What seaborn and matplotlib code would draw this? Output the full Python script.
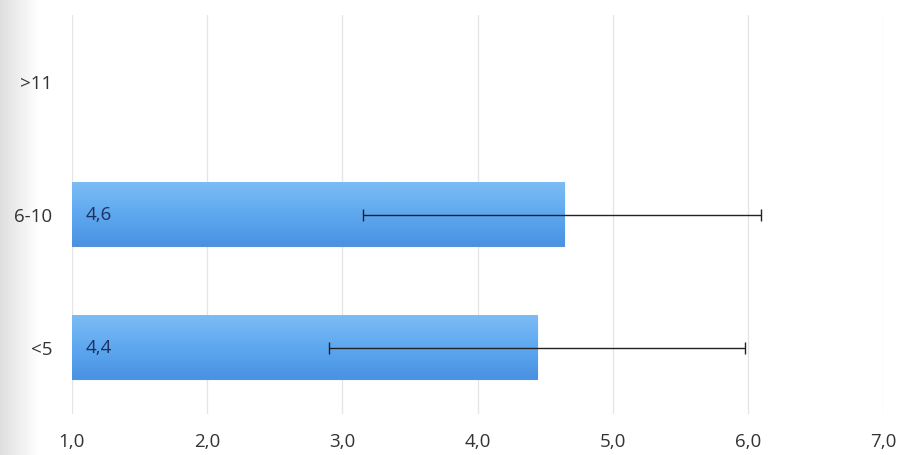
import matplotlib
matplotlib.use("Agg")
import matplotlib.pyplot as plt
from matplotlib.colors import LinearSegmentedColormap
import seaborn as sns
import numpy as np
import pandas as pd

categories = [">11", "6-10", "<5"]
values = [np.nan, 4.64, 4.44]
err_low = [np.nan, 3.15, 2.9]
err_high = [np.nan, 6.1, 5.98]
value_labels = ["", "4,6", "4,4"]
xticks = [1.0, 2.0, 3.0, 4.0, 5.0, 6.0, 7.0]
x_min, x_max = 1.0, 7.0

sns.set_theme(style="white")
plt.rcParams["font.family"] = ["Open Sans", "DejaVu Sans"]

fig = plt.figure(figsize=(9.03, 4.55), dpi=100)

# subtle scan shadow at left edge (background axes)
bg = fig.add_axes([0, 0, 1, 1], zorder=-10)
grad = np.concatenate([np.linspace(0.87, 1.0, 40), np.ones(863)]).reshape(1, -1)
bg.imshow(grad, cmap="gray", vmin=0, vmax=1, aspect="auto", extent=[0, 1, 0, 1])
bg.set_axis_off()

ax = fig.add_axes([0.0797, 0.09, 0.978 - 0.0797, 0.877])

df = pd.DataFrame({"cat": categories, "val": values})
sns.barplot(data=df, y="cat", x="val", order=categories, orient="h",
            color="#5ea6ee", width=0.48, saturation=1, ax=ax, zorder=2)

# gentle vertical gradient inside each bar (lighter top, darker bottom)
cmap = LinearSegmentedColormap.from_list("barg", ["#7cbcf4", "#5ea8f0", "#4a92e2"])
gimg = np.linspace(0, 1, 50).reshape(-1, 1)
for p in list(ax.patches):
    w = p.get_width()
    if not np.isfinite(w) or w == 0:
        continue
    x0, y0, h = p.get_x(), p.get_y(), p.get_height()
    xs = max(x0, x_min)
    p.set_edgecolor("#5a8fd6")
    p.set_linewidth(0.8)
    ax.imshow(gimg, cmap=cmap, aspect="auto", extent=[xs, x0 + w, y0 + h, y0],
              origin="upper", zorder=2.1)

ypos = np.arange(len(categories))
vals = np.array(values)
lo = np.array(err_low)
hi = np.array(err_high)
mask = ~np.isnan(vals)
ax.errorbar(vals[mask], ypos[mask], xerr=[vals[mask] - lo[mask], hi[mask] - vals[mask]],
            fmt="none", ecolor="#222222", elinewidth=1.0, capsize=4, capthick=1.0, zorder=3)

for y, lab in zip(ypos, value_labels):
    if lab:
        ax.text(1.1, y, lab, va="center", ha="left", fontsize=13.5, color="#1f2f60", zorder=4)

ax.set_xlim(x_min, x_max)
ax.set_ylim(2.5, -0.5)
ax.set_xticks(xticks)
ax.set_xticklabels([f"{t:.1f}".replace(".", ",") for t in xticks], fontsize=13.5, color="#333333")
ax.tick_params(axis="x", pad=14, length=0)
ax.tick_params(axis="y", pad=14, length=0, labelsize=13.5, labelcolor="#333333")
ax.set_xlabel("")
ax.set_ylabel("")
for s in ax.spines.values():
    s.set_visible(False)
ax.xaxis.grid(True, color="#e4e4e4", linewidth=0.9, zorder=0)
ax.set_axisbelow(True)
ax.patch.set_alpha(0)

fig.savefig("out.png", dpi=100)
